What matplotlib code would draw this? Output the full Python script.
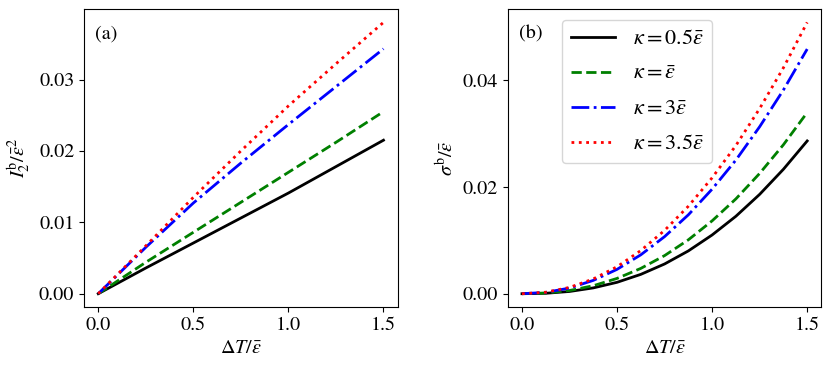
import matplotlib
matplotlib.use("Agg")
import matplotlib.pyplot as plt
from matplotlib.ticker import FormatStrFormatter

plt.rcParams['font.family'] = 'STIXGeneral'
plt.rcParams['mathtext.fontset'] = 'stix'
plt.rcParams['font.size'] = 14

# Panel (a)
xa = [0.0, 0.25, 0.5, 0.75, 1.0, 1.25, 1.5]
a_k05 = [0.0, 0.0036, 0.0071, 0.0106, 0.0141, 0.0178, 0.0215]
a_k1 = [0.0, 0.0044, 0.0086, 0.0128, 0.0170, 0.0212, 0.0255]
a_k3 = [0.0, 0.0065, 0.0127, 0.0183, 0.0237, 0.0290, 0.0343]
a_k35 = [0.0, 0.0067, 0.0135, 0.0200, 0.0263, 0.0322, 0.0380]

# Panel (b)
xb = [0.0, 0.125, 0.25, 0.375, 0.5, 0.625, 0.75, 0.875, 1.0, 1.125, 1.25, 1.375, 1.5]
b_k05 = [0.0, 0.00008, 0.00042, 0.00109, 0.00214, 0.00363, 0.00558, 0.00803,
         0.01102, 0.01453, 0.01864, 0.02335, 0.02866]
b_k1 = [0.0, 0.00013, 0.00060, 0.00150, 0.00287, 0.00475, 0.00715, 0.01011,
        0.01367, 0.01779, 0.02257, 0.02795, 0.0340]
b_k3 = [0.0, 0.00025, 0.00106, 0.00250, 0.00457, 0.00730, 0.01071, 0.01480,
        0.01962, 0.02507, 0.03133, 0.03823, 0.0459]
b_k35 = [0.0, 0.00028, 0.00118, 0.00277, 0.00506, 0.00810, 0.01188, 0.01641,
         0.02175, 0.02780, 0.03474, 0.04239, 0.0509]

labels = [r'$\kappa=0.5\bar{\varepsilon}$', r'$\kappa=\bar{\varepsilon}$',
          r'$\kappa=3\bar{\varepsilon}$', r'$\kappa=3.5\bar{\varepsilon}$']
colors = ['k', 'g', 'b', 'r']
styles = ['-', '--', '-.', ':']
xticks = [0.0, 0.5, 1.0, 1.5]
yticks_a = [0.0, 0.01, 0.02, 0.03]
yticks_b = [0.0, 0.02, 0.04]

fig = plt.figure(figsize=(8.3, 3.68), dpi=100)
ax1 = fig.add_axes([0.1012, 0.165, 0.378, 0.811])
ax2 = fig.add_axes([0.6117, 0.165, 0.378, 0.811])

for ys, c, s, l in zip([a_k05, a_k1, a_k3, a_k35], colors, styles, labels):
    ax1.plot(xa, ys, color=c, linestyle=s, linewidth=2, label=l)
for ys, c, s, l in zip([b_k05, b_k1, b_k3, b_k35], colors, styles, labels):
    ax2.plot(xb, ys, color=c, linestyle=s, linewidth=2, label=l)

for ax, yt in [(ax1, yticks_a), (ax2, yticks_b)]:
    ax.set_xticks(xticks)
    ax.set_yticks(yt)
    ax.yaxis.set_major_formatter(FormatStrFormatter('%.2f'))
    ax.tick_params(labelsize=14.5)
    ax.set_xlabel(r'$\Delta T/\bar{\varepsilon}$', fontsize=14.5)

ax1.set_ylabel(r'$I_2^{\mathrm{b}}/\bar{\varepsilon}^2$', fontsize=14.5)
ax2.set_ylabel(r'$\sigma^{\mathrm{b}}/\bar{\varepsilon}$', fontsize=14.5)

ax1.text(0.035, 0.915, '(a)', transform=ax1.transAxes, ha='left', va='center', fontsize=14.5)
ax2.text(0.035, 0.915, '(b)', transform=ax2.transAxes, ha='left', va='center', fontsize=14.5)

ax2.legend(loc='upper left', bbox_to_anchor=(0.172, 0.963), borderaxespad=0,
           handlelength=2.0, fontsize=16, labelspacing=0.65)

fig.savefig('out.png', dpi=100)
